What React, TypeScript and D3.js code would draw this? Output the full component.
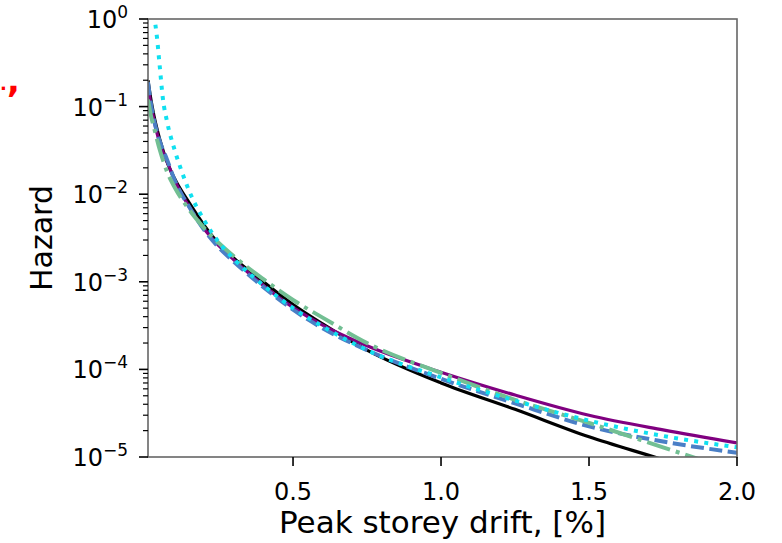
import React from "react";
import * as d3 from "d3";

const drift = [0.01, 0.02, 0.03, 0.05, 0.075, 0.1, 0.15, 0.2, 0.25, 0.3, 0.4, 0.5, 0.6, 0.75, 1.0, 1.25, 1.5, 1.75, 2.0];
const hazardBlack = [0.2, 0.12, 0.079, 0.042, 0.023, 0.015, 7.9e-3, 4.4e-3, 2.7e-3, 1.86e-3, 1.0e-3, 5.5e-4, 3.3e-4, 1.66e-4, 7.0e-5, 3.5e-5, 1.7e-5, 9.3e-6, 4.9e-6];
const hazardPurple = [0.178, 0.105, 0.071, 0.038, 0.0234, 0.0145, 7.1e-3, 4.0e-3, 2.57e-3, 1.78e-3, 9.1e-4, 5.1e-4, 3.2e-4, 1.86e-4, 9.3e-5, 5.1e-5, 3.0e-5, 2.04e-5, 1.45e-5];
const hazardBlue = [0.19, 0.107, 0.071, 0.04, 0.0245, 0.0145, 7.1e-3, 3.9e-3, 2.45e-3, 1.7e-3, 8.7e-4, 4.8e-4, 2.95e-4, 1.66e-4, 7.8e-5, 4.1e-5, 2.24e-5, 1.5e-5, 1.12e-5];
const hazardGreen = [0.12, 0.079, 0.058, 0.032, 0.0178, 0.012, 6.6e-3, 4.1e-3, 2.75e-3, 1.95e-3, 1.07e-3, 6.2e-4, 3.9e-4, 2.0e-4, 9.1e-5, 4.5e-5, 2.45e-5, 1.29e-5, 6.8e-6];
const driftCyan = [0.03, 0.04, 0.05, 0.06, 0.075, 0.1, 0.125, 0.15, 0.2, 0.25, 0.3, 0.4, 0.5, 0.6, 0.75, 1.0, 1.25, 1.5, 1.75, 2.0];
const hazardCyan = [1.12, 0.63, 0.28, 0.126, 0.066, 0.032, 0.0178, 0.0107, 5.0e-3, 2.8e-3, 1.82e-3, 9.1e-4, 5.0e-4, 3.1e-4, 1.66e-4, 8.1e-5, 4.4e-5, 2.6e-5, 1.74e-5, 1.29e-5];

const xTicks = [0.5, 1.0, 1.5, 2.0];
const xTickLabels = ["0.5", "1.0", "1.5", "2.0"];
const yExponents = [0, -1, -2, -3, -4, -5];

const W = 782;
const H = 543;
const L = 148, R = 737, T = 19, B = 457;
const FONT = "DejaVu Sans";

export default function App() {
  const x = d3.scaleLinear().domain([0.01, 2.0]).range([L, R]);
  const y = d3.scaleLog().domain([1e-5, 1]).range([B, T]);

  const mk = (xs: number[], hs: number[]) => {
    const pts: [number, number][] = xs.map((d, i) => [d, hs[i]]);
    return d3
      .line<[number, number]>()
      .x((p) => x(p[0]))
      .y((p) => y(p[1]))
      .curve(d3.curveMonotoneX)(pts) as string;
  };

  const series = [
    { xs: drift, hs: hazardBlack, color: "#000000", w: 3.2, dash: "none" },
    { xs: drift, hs: hazardPurple, color: "#800080", w: 3.2, dash: "none" },
    { xs: drift, hs: hazardBlue, color: "#4a7fc6", w: 4, dash: "13 5.5" },
    { xs: drift, hs: hazardGreen, color: "#72bf93", w: 4, dash: "24 6 4 6" },
    { xs: driftCyan, hs: hazardCyan, color: "#10e0f0", w: 4, dash: "4 6.2" },
  ];

  const minor: number[] = [];
  for (let e = -5; e < 0; e++) {
    for (let m = 2; m <= 9; m++) minor.push(m * Math.pow(10, e));
  }

  return (
    <svg
      width={W}
      height={H}
      style={{ position: "absolute", left: 0, top: 0, background: "#fff" }}
      fontFamily={FONT}
    >
      <rect x={0} y={0} width={W} height={H} fill="#fff" />
      <defs>
        <clipPath id="plotclip">
          <rect x={L} y={T} width={R - L} height={B - T} />
        </clipPath>
      </defs>

      <text x={0} y={90} fontSize={18} fill="#ff0000" fontWeight="bold">
        .
      </text>
      <text x={7} y={92} fontSize={34} fill="#ff0000" fontWeight="bold">
        ,
      </text>

      <g clipPath="url(#plotclip)">
        {series.map((s, i) => (
          <path
            key={i}
            d={mk(s.xs, s.hs)}
            fill="none"
            stroke={s.color}
            strokeWidth={s.w}
            strokeDasharray={s.dash}
            strokeLinejoin="round"
          />
        ))}
      </g>

      {/* frame */}
      <rect x={L} y={T} width={R - L} height={B - T} fill="none" stroke="#666" strokeWidth={1.6} />

      {/* y minor ticks */}
      {minor.map((v, i) => (
        <line key={"m" + i} x1={L - 5} x2={L} y1={y(v)} y2={y(v)} stroke="#000" strokeWidth={1.2} />
      ))}
      {/* y major ticks & labels */}
      {yExponents.map((e) => {
        const yy = y(Math.pow(10, e));
        return (
          <g key={"y" + e}>
            <line x1={L - 9} x2={L} y1={yy} y2={yy} stroke="#000" strokeWidth={1.6} />
            <text x={128} y={yy + 9} fontSize={24} textAnchor="end" fill="#000">
              10
              <tspan fontSize={17} dy={-10}>
                {e === 0 ? "0" : "\u2212" + String(-e)}
              </tspan>
            </text>
          </g>
        );
      })}

      {/* x ticks */}
      {xTicks.map((v, i) => (
        <g key={"x" + i}>
          <line x1={x(v)} x2={x(v)} y1={B} y2={B + 9} stroke="#000" strokeWidth={1.6} />
          <text x={x(v)} y={500} fontSize={24} textAnchor="middle" fill="#000">
            {xTickLabels[i]}
          </text>
        </g>
      ))}

      <text x={(L + R) / 2} y={533} fontSize={31} textAnchor="middle" fill="#000">
        Peak storey drift, [%]
      </text>
      <text
        transform={`translate(52, ${(T + B) / 2}) rotate(-90)`}
        fontSize={30}
        textAnchor="middle"
        fill="#000"
      >
        Hazard
      </text>
    </svg>
  );
}
